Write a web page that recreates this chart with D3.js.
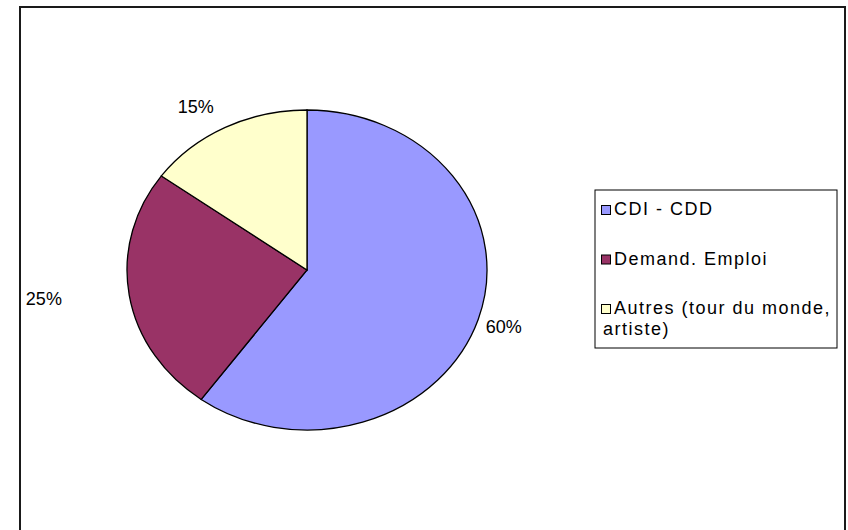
<!DOCTYPE html>
<html>
<head>
<meta charset="utf-8">
<script src="https://cdn.jsdelivr.net/npm/d3@7"></script>
<style>
  body { margin: 0; background: #fff; }
  svg text { font-family: "Liberation Sans", Arial, sans-serif; fill: #000; }
</style>
</head>
<body>
<svg id="chart" width="848" height="530"></svg>
<script>
// chart data
var categories = ["CDI - CDD", "Demand. Emploi", "Autres (tour du monde, artiste)"];
var values = [60, 25, 15];
var sliceColors = ["#9999FF", "#993366", "#FFFFCC"];
var legendLines = [["CDI - CDD"], ["Demand. Emploi"], ["Autres (tour du monde,", "artiste)"]];

var svg = d3.select("#chart");

// outer frame (bottom edge runs past the picture)
svg.append("rect")
    .attr("x", 20).attr("y", 7)
    .attr("width", 825).attr("height", 540)
    .style("fill", "#fff")
    .style("stroke", "#1a1a1a")
    .style("stroke-width", 2);

// pie is an ellipse: draw round, stretch horizontally
var cx = 307, cy = 270, ry = 160, rx = 180;
var pie = d3.pie().sort(null).value(function(d) { return d; });
var arcs = pie(values);
var arc = d3.arc().innerRadius(0).outerRadius(ry);

var pieG = svg.append("g")
    .attr("transform", "translate(" + cx + "," + cy + ") scale(" + (rx / ry) + ",1)");

pieG.selectAll("path")
    .data(arcs)
    .enter()
    .append("path")
    .attr("d", arc)
    .style("fill", function(d, i) { return sliceColors[i]; })
    .style("stroke", "#000")
    .style("stroke-width", 1.3)
    .attr("vector-effect", "non-scaling-stroke");

// percent labels, pushed out along each slice's mid angle
var labelPush = [[1.15, 1.15], [1.48, 1.12], [1.36, 1.15]];
var total = d3.sum(values);
svg.selectAll("text.pct")
    .data(arcs)
    .enter()
    .append("text")
    .attr("class", "pct")
    .attr("text-anchor", "middle")
    .style("font-size", "18px")
    .attr("x", function(d, i) {
        var a = (d.startAngle + d.endAngle) / 2;
        return cx + rx * labelPush[i][0] * Math.sin(a);
    })
    .attr("y", function(d, i) {
        var a = (d.startAngle + d.endAngle) / 2;
        return cy - ry * labelPush[i][1] * Math.cos(a) + 6.5;
    })
    .text(function(d) { return Math.round(d.value / total * 100) + "%"; });

// legend
var legend = svg.append("g").attr("class", "legend");
legend.append("rect")
    .attr("x", 595).attr("y", 190)
    .attr("width", 242).attr("height", 158)
    .style("fill", "#fff")
    .style("stroke", "#000")
    .style("stroke-width", 1);

var itemY = d3.scalePoint()
    .domain(categories)
    .range([215, 314]);

var items = legend.selectAll("g.item")
    .data(categories)
    .enter()
    .append("g")
    .attr("class", "item")
    .attr("transform", function(d) { return "translate(601," + itemY(d) + ")"; });

items.append("rect")
    .attr("x", 0.5).attr("y", -9.5)
    .attr("width", 9).attr("height", 9)
    .style("fill", function(d, i) { return sliceColors[i]; })
    .style("stroke", "#000")
    .style("stroke-width", 1);

items.append("text")
    .attr("x", 13)
    .style("font-size", "18px")
    .style("letter-spacing", "1.5px")
    .selectAll("tspan")
    .data(function(d, i) { return legendLines[i]; })
    .enter()
    .append("tspan")
    .attr("x", function(d, j) { return j === 0 ? 13 : 2; })
    .attr("dy", function(d, j) { return j === 0 ? 0 : 21; })
    .text(function(d) { return d; });
</script>
</body>
</html>
